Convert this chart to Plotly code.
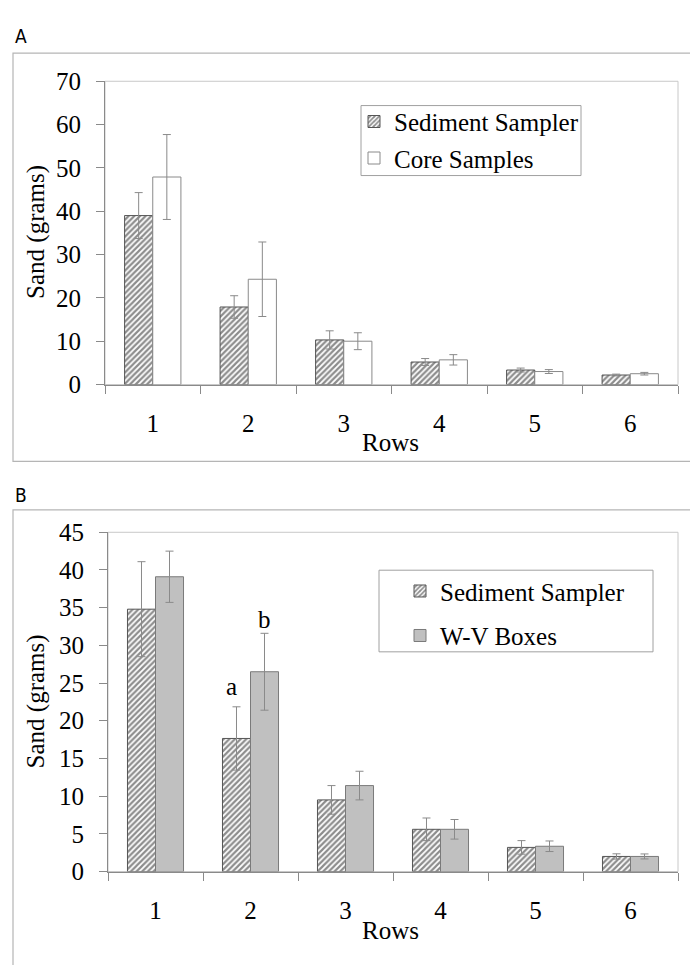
import plotly.graph_objects as go

rows = ["1", "2", "3", "4", "5", "6"]

# Panel A
a_sed = [39.0, 17.9, 10.3, 5.2, 3.35, 2.2]
a_sed_err = [5.3, 2.6, 2.1, 0.8, 0.45, 0.2]
a_core = [47.9, 24.3, 10.0, 5.7, 3.0, 2.5]
a_core_err = [9.8, 8.6, 1.95, 1.2, 0.45, 0.3]

# Panel B
b_sed = [34.8, 17.65, 9.5, 5.6, 3.2, 2.0]
b_sed_err = [6.3, 4.2, 1.9, 1.5, 0.9, 0.35]
b_wv = [39.1, 26.5, 11.4, 5.6, 3.35, 2.0]
b_wv_err = [3.4, 5.1, 1.9, 1.3, 0.7, 0.33]

sig_letters = ["a", "b"]
sig_pos = [0.8, 1.15]
sig_y = [24.6, 33.4]

W, H = 698, 965
SERIF = "Liberation Serif, Times New Roman, serif"
SANS = "Liberation Sans Narrow, DejaVu Sans Condensed, sans-serif"
GRAY = "#8a8a8a"
LIGHT = "#c8c8c8"

def px(v):
    return v / W

def py(v):
    return 1 - v / H

hatch = dict(shape="/", fgcolor="#1a1a1a", bgcolor="white", size=4, solidity=0.55)
err_style = dict(type="data", color=GRAY, thickness=1, width=4, visible=True)

fig = go.Figure()

fig.add_trace(go.Bar(
    x=rows, y=a_sed, name="Sediment Sampler", xaxis="x", yaxis="y",
    marker=dict(color="white", pattern=hatch, line=dict(color="#555555", width=1)),
    error_y=dict(array=a_sed_err, **err_style),
    legend="legend", legendgroup="a1"))
fig.add_trace(go.Bar(
    x=rows, y=a_core, name="Core Samples", xaxis="x", yaxis="y",
    marker=dict(color="white", line=dict(color="#8a8a8a", width=1)),
    error_y=dict(array=a_core_err, **err_style),
    legend="legend", legendgroup="a2"))
fig.add_trace(go.Bar(
    x=rows, y=b_sed, name="Sediment Sampler", xaxis="x2", yaxis="y2",
    marker=dict(color="white", pattern=hatch, line=dict(color="#555555", width=1)),
    error_y=dict(array=b_sed_err, **err_style),
    legend="legend2", legendgroup="b1"))
fig.add_trace(go.Bar(
    x=rows, y=b_wv, name="W-V Boxes", xaxis="x2", yaxis="y2",
    marker=dict(color="#c0c0c0", line=dict(color="#7a7a7a", width=1)),
    error_y=dict(array=b_wv_err, **err_style),
    legend="legend2", legendgroup="b2"))

xcommon = dict(type="category", tickson="boundaries", ticks="outside", ticklen=8,
               tickcolor=GRAY, showline=True, linecolor=GRAY, linewidth=1,
               showgrid=False, zeroline=False,
               tickfont=dict(family=SERIF, size=25, color="black"),
               ticklabelstandoff=16, range=[-0.5, 5.5])
ycommon = dict(ticks="outside", ticklen=8, tickcolor=GRAY, showline=True,
               linecolor=GRAY, linewidth=1, showgrid=False, zeroline=False,
               tickfont=dict(family=SERIF, size=25, color="black"),
               ticklabelstandoff=10)

fig.update_layout(
    width=W, height=H,
    margin=dict(l=0, r=0, t=0, b=0),
    paper_bgcolor="white", plot_bgcolor="white",
    barmode="group", bargap=0.41, bargroupgap=0,
    xaxis=dict(domain=[px(97), px(670)], anchor="y", **xcommon),
    yaxis=dict(domain=[py(374), py(62)], anchor="x", range=[0, 70], dtick=10, **ycommon),
    xaxis2=dict(domain=[px(100), px(670)], anchor="y2", **xcommon),
    yaxis2=dict(domain=[py(875), py(526)], anchor="x2", range=[0, 45], dtick=5, **ycommon),
    legend=dict(x=px(346), y=py(80), xanchor="left", yanchor="top",
                bgcolor="rgba(0,0,0,0)", borderwidth=0,
                font=dict(family=SERIF, size=25, color="black"),
                tracegroupgap=1, traceorder="grouped"),
    legend2=dict(x=px(392), y=py(563), xanchor="left", yanchor="top",
                 bgcolor="rgba(0,0,0,0)", borderwidth=0,
                 font=dict(family=SERIF, size=25, color="black"),
                 tracegroupgap=9, traceorder="grouped"),
    showlegend=True,
)

shapes = [
    # outer panel boxes
    dict(type="rect", xref="paper", yref="paper", x0=px(5), x1=px(697), y0=py(453), y1=py(33),
         line=dict(color="#b5b5b5", width=1.2), layer="below"),
    dict(type="rect", xref="paper", yref="paper", x0=px(5), x1=px(697), y0=py(975), y1=py(503),
         line=dict(color="#b5b5b5", width=1.2), layer="below"),
    # plot area frames
    dict(type="rect", xref="x domain", yref="y domain", x0=0, x1=1, y0=0, y1=1,
         line=dict(color=LIGHT, width=1), layer="below"),
    dict(type="rect", xref="x2 domain", yref="y2 domain", x0=0, x1=1, y0=0, y1=1,
         line=dict(color=LIGHT, width=1), layer="below"),
    # legend boxes
    dict(type="rect", xref="paper", yref="paper", x0=px(353), x1=px(573), y0=py(159), y1=py(87),
         line=dict(color="#a0a0a0", width=1), fillcolor="white", layer="below"),
    dict(type="rect", xref="paper", yref="paper", x0=px(371), x1=px(645), y0=py(649), y1=py(565),
         line=dict(color="#a0a0a0", width=1), fillcolor="white", layer="below"),
]
fig.update_layout(shapes=shapes)

def lab(text, x, y, font, angle=0, xref="paper", yref="paper"):
    return dict(text=text, x=x, y=y, xref=xref, yref=yref, showarrow=False,
                xanchor="center", yanchor="middle", textangle=angle, font=font)

serif25 = dict(family=SERIF, size=25, color="black")
ann = [
    lab("A", px(13), py(15), dict(family=SANS, size=19, color="black")),
    lab("B", px(13), py(488), dict(family=SANS, size=19, color="black")),
    lab("Rows", px(382), py(434), serif25),
    lab("Rows", px(382), py(936), serif25),
    lab("Sand (grams)", px(28), py(217), serif25, angle=-90),
    lab("Sand (grams)", px(28), py(700), serif25, angle=-90),
]
for t, xp, yv in zip(sig_letters, sig_pos, sig_y):
    ann.append(lab(t, xp, yv, serif25, xref="x2", yref="y2"))
fig.update_layout(annotations=ann)

fig.write_html("out.html")
